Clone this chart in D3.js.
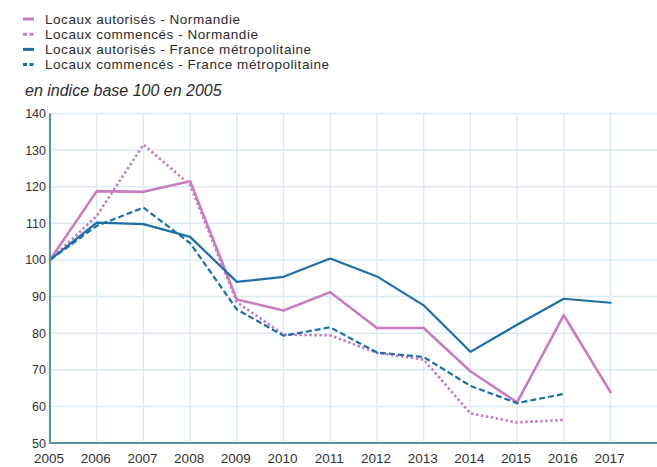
<!DOCTYPE html>
<html>
<head>
<meta charset="utf-8">
<script src="https://cdn.jsdelivr.net/npm/d3@7"></script>
<style>
  body { margin: 0; background: #fff; }
  svg { display: block; font-family: "Liberation Sans", Arial, sans-serif; }
</style>
</head>
<body>
<svg id="chart" width="657" height="467"></svg>
<script>
var years = [2005, 2006, 2007, 2008, 2009, 2010, 2011, 2012, 2013, 2014, 2015, 2016, 2017];
var yTicks = [50, 60, 70, 80, 90, 100, 110, 120, 130, 140];

var autorisesNormandie = [100, 118.8, 118.6, 121.5, 89.2, 86.2, 91.2, 81.4, 81.4, 69.6, 61.1, 84.9, 63.9];
var commencesNormandie = [100, 112, 131.5, 120.5, 88.5, 79.6, 79.4, 74.6, 72.8, 58.1, 55.6, 56.3];
var autorisesFrance = [100, 110.2, 109.8, 106.3, 94.0, 95.4, 100.4, 95.5, 87.6, 74.9, 82.3, 89.4, 88.3];
var commencesFrance = [100, 109.3, 114.3, 104.6, 86.5, 79.3, 81.6, 74.7, 73.5, 65.6, 60.9, 63.4];

var seriesNames = [
  'Locaux autorisés - Normandie',
  'Locaux commencés - Normandie',
  'Locaux autorisés - France métropolitaine',
  'Locaux commencés - France métropolitaine'
];

var pink = '#c77dbf';
var blue = '#1f6ea8';

var series = [
  { name: seriesNames[0], values: autorisesNormandie, color: pink, dash: null, width: 2.6 },
  { name: seriesNames[1], values: commencesNormandie, color: pink, dash: '2.5,2.5', width: 2.6 },
  { name: seriesNames[2], values: autorisesFrance, color: blue, dash: null, width: 2.2 },
  { name: seriesNames[3], values: commencesFrance, color: blue, dash: '6,3', width: 2.2 }
];

var svg = d3.select('#chart');
var width = parseFloat(svg.attr('width'));

var x = d3.scaleLinear().domain([2005, 2017]).range([50, 610.5]);
var y = d3.scaleLinear().domain([50, 140]).range([443, 113.5]);

/* Grid */
var grid = svg.append('g');
grid.selectAll('line.h').data(yTicks.slice(1)).enter().append('line')
  .attr('class', 'h')
  .attr('x1', x(2005)).attr('x2', width)
  .attr('y1', d => y(d)).attr('y2', d => y(d))
  .style('stroke', '#dcebf3').style('stroke-width', 1.5);
grid.selectAll('line.v').data(years.slice(1)).enter().append('line')
  .attr('class', 'v')
  .attr('x1', d => x(d)).attr('x2', d => x(d))
  .attr('y1', y(140)).attr('y2', y(50))
  .style('stroke', '#dcebf3').style('stroke-width', 1.5);

/* Lines */
var line = d3.line().x((d, i) => x(years[i])).y(d => y(d));
series.forEach(s => {
  svg.append('path')
    .attr('d', line(s.values))
    .style('fill', 'none')
    .style('stroke', s.color)
    .style('stroke-width', s.width)
    .style('stroke-linejoin', 'round')
    .style('stroke-linecap', s.dash ? 'butt' : 'round')
    .style('stroke-dasharray', s.dash);
});

/* Axes */
var xAxis = d3.axisBottom(x).tickValues(years).tickFormat(d3.format('d')).tickSize(0).tickPadding(10);
var gx = svg.append('g').attr('transform', 'translate(0,' + y(50) + ')').call(xAxis);
gx.select('.domain').remove();
gx.append('line').attr('x1', x(2005) - 1).attr('x2', width).attr('y1', 0).attr('y2', 0)
  .style('stroke', '#5e93a3').style('stroke-width', 2.2);
gx.selectAll('.tick text').attr('dx', -1.5)
  .style('font-size', '13.5px').style('fill', '#333').style('font-family', '"Liberation Sans", Arial, sans-serif');

var yAxis = d3.axisLeft(y).tickValues(yTicks).tickSize(0).tickPadding(4);
var gy = svg.append('g').attr('transform', 'translate(' + x(2005) + ',0)').call(yAxis);
gy.select('.domain').remove();
gy.append('line').attr('x1', 0).attr('x2', 0).attr('y1', y(140)).attr('y2', y(50) + 1)
  .style('stroke', '#5e93a3').style('stroke-width', 2.2);
gy.selectAll('.tick text')
  .style('font-size', '12.5px').style('fill', '#333').style('font-family', '"Liberation Sans", Arial, sans-serif');

/* Legend */
var legend = svg.append('g').attr('transform', 'translate(22,19)');
series.forEach((s, i) => {
  var row = legend.append('g').attr('transform', 'translate(0,' + i * 15.2 + ')');
  row.append('line').attr('x1', 1).attr('x2', 12).attr('y1', 0).attr('y2', 0)
    .style('stroke', s.color).style('stroke-width', 3)
    .style('stroke-dasharray', s.dash ? '4,2.5' : null);
  row.append('text').attr('x', 23).attr('y', 4.5)
    .style('font-size', '13.5px').style('letter-spacing', '0.55px').style('fill', '#2b2b2b')
    .text(s.name);
});

svg.append('text').attr('x', 25).attr('y', 96)
  .style('font-size', '16px').style('font-style', 'italic').style('fill', '#2b2b2b')
  .text('en indice base 100 en 2005');
</script>
</body>
</html>
